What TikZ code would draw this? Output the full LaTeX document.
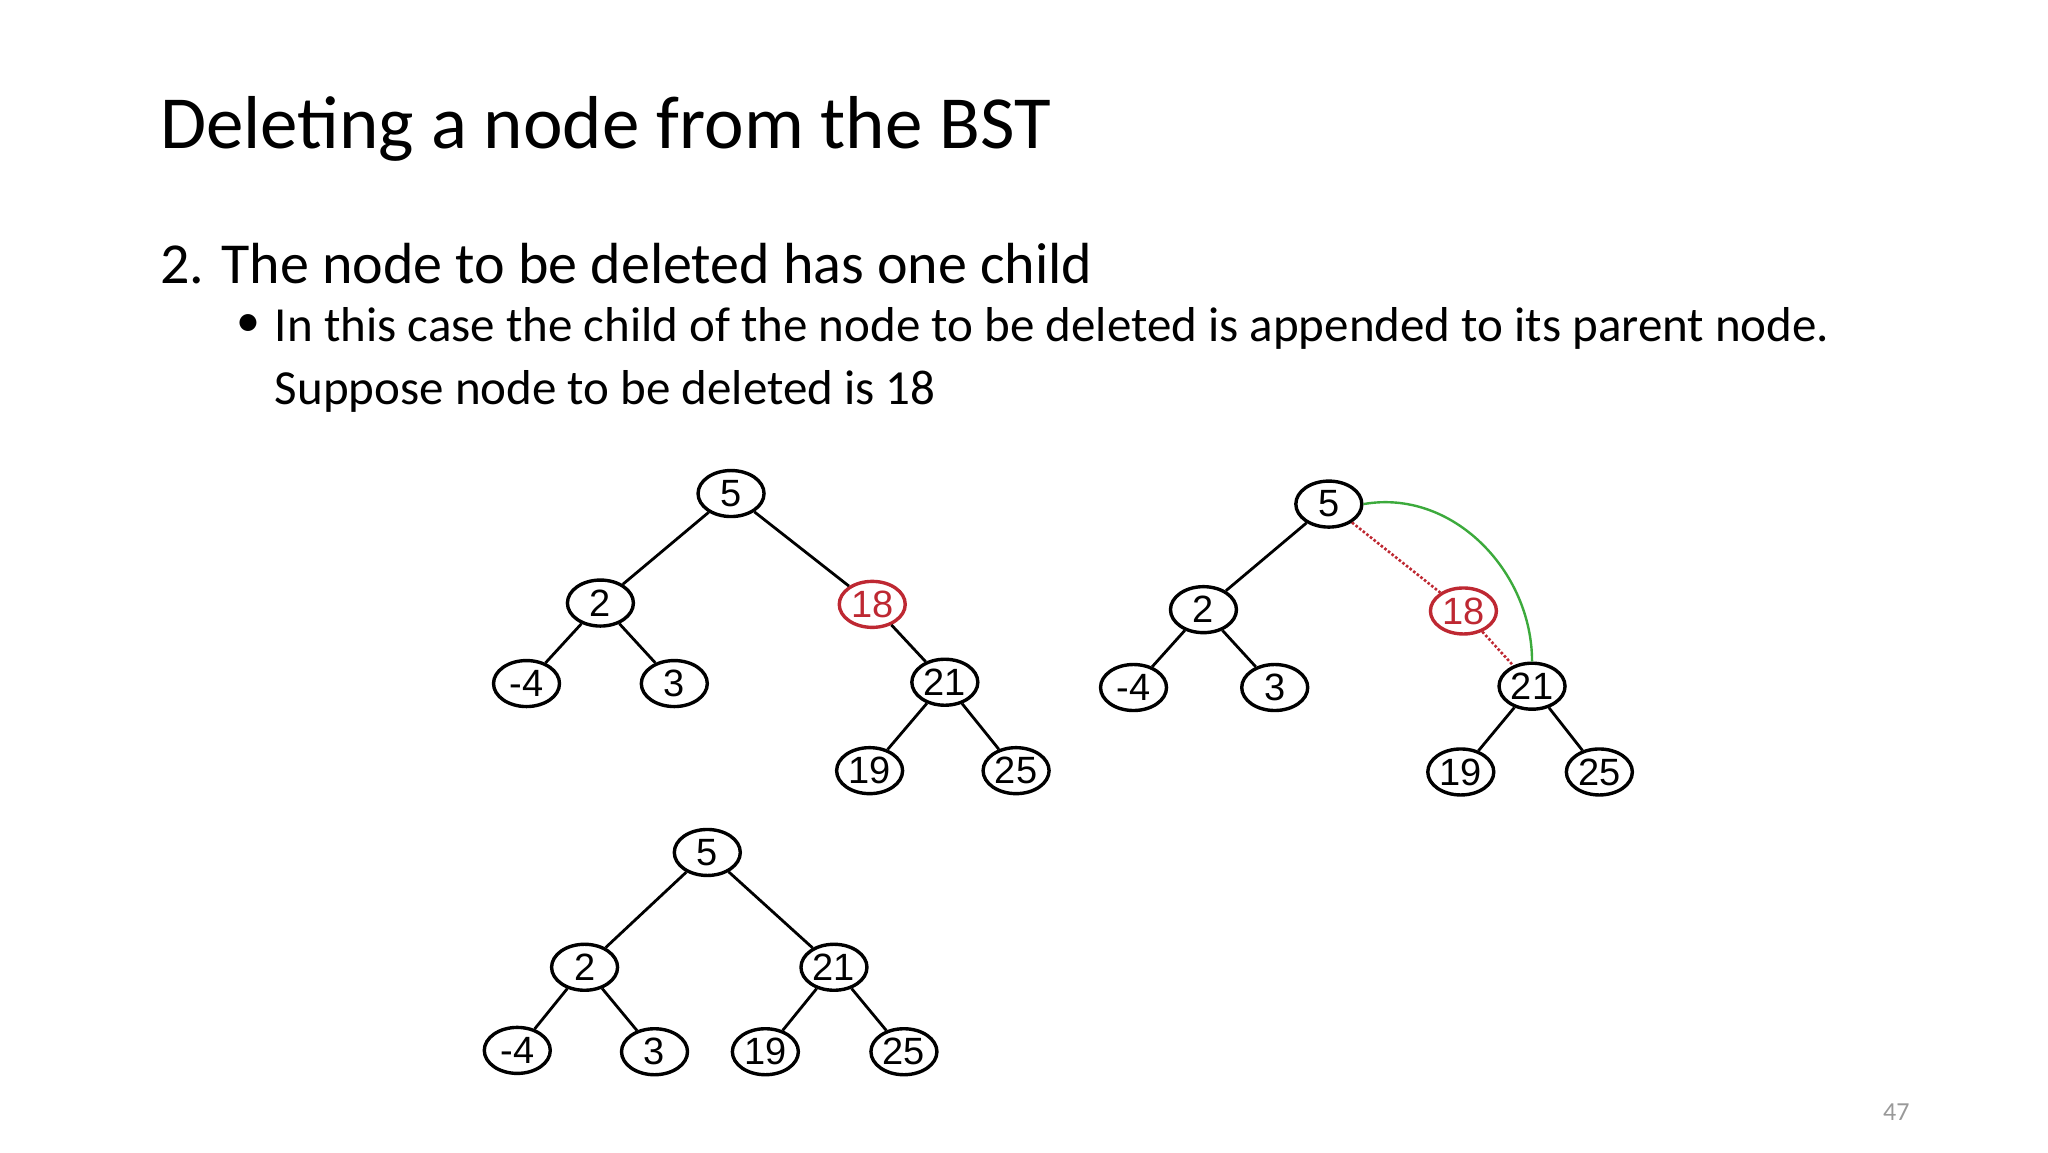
\documentclass[tikz,border=0pt]{standalone}
\usepackage{fontspec}
\setmainfont{Carlito}
\newfontfamily\arialf{Liberation Sans}
\usetikzlibrary{shapes.geometric}
\definecolor{delred}{RGB}{190,40,50}
\definecolor{arcgreen}{RGB}{60,170,60}
\begin{document}
\begin{tikzpicture}[x=0.6598pt,y=-0.6598pt,
  tn/.style={ellipse,draw,line width=1.7pt,minimum width=33pt,minimum height=23pt,inner sep=0pt,font=\arialf\fontsize{19}{19}\selectfont},
  rn/.style={tn,draw=delred,text=delred},
  ed/.style={line width=1.4pt},
  dd/.style={densely dotted,line width=1.3pt,draw=delred}]
\useasboundingbox (0,0) rectangle (1552,873);
\node[anchor=west,font=\fontsize{37.5}{42}\selectfont] (title) at (116,98) {Deleting a node from the BST};
\node[anchor=west,font=\fontsize{29}{32}\selectfont] (l1) at (116,200) {2. The node to be deleted has one child};
\node[anchor=west,font=\fontsize{24}{26}\selectfont] (b) at (174,247) {•};
\node[anchor=west,font=\fontsize{24.5}{26}\selectfont] (l2) at (203,249) {In this case the child of the node to be deleted is appended to its parent node.};
\node[anchor=west,font=\fontsize{24.5}{26}\selectfont] (l3) at (203,297) {Suppose node to be deleted is 18};
\node[text=gray!80,font=\fontsize{13}{14}\selectfont] (pg) at (1437,843) {47};
% tree 1
\node[tn] (a5) at (554,374) {5};
\node[tn] (a2) at (455,457) {2};
\node[rn] (a18) at (661,458) {18};
\node[tn] (am4) at (399,518) {-4};
\node[tn] (a3) at (511,518) {3};
\node[tn] (a21) at (716,517) {21};
\node[tn] (a19) at (659,584) {19};
\node[tn] (a25) at (770,584) {25};
\draw[ed] (a5)--(a2) (a5)--(a18) (a2)--(am4) (a2)--(a3) (a18)--(a21) (a21)--(a19) (a21)--(a25);
% tree 2
\node[tn] (b5) at (1007,382) {5};
\node[tn] (b2) at (912,462) {2};
\node[rn] (b18) at (1109,463) {18};
\node[tn] (bm4) at (859,521) {-4};
\node[tn] (b3) at (966,521) {3};
\node[tn] (b21) at (1161,520) {21};
\node[tn] (b19) at (1107,585) {19};
\node[tn] (b25) at (1212,585) {25};
\draw[ed] (b5)--(b2) (b2)--(bm4) (b2)--(b3) (b21)--(b19) (b21)--(b25);
\draw[dd] (b5)--(b18) (b18)--(b21);
\draw[arcgreen,line width=1.2pt] (b5.east) to[out=10,in=90] (b21.north);
% tree 3
\node[tn] (c5) at (536,646) {5};
\node[tn] (c2) at (443,733) {2};
\node[tn] (c21) at (632,733) {21};
\node[tn] (cm4) at (392,796) {-4};
\node[tn] (c3) at (496,797) {3};
\node[tn] (c19) at (580,797) {19};
\node[tn] (c25) at (685,797) {25};
\draw[ed] (c5)--(c2) (c5)--(c21) (c2)--(cm4) (c2)--(c3) (c21)--(c19) (c21)--(c25);
\end{tikzpicture}
\end{document}
